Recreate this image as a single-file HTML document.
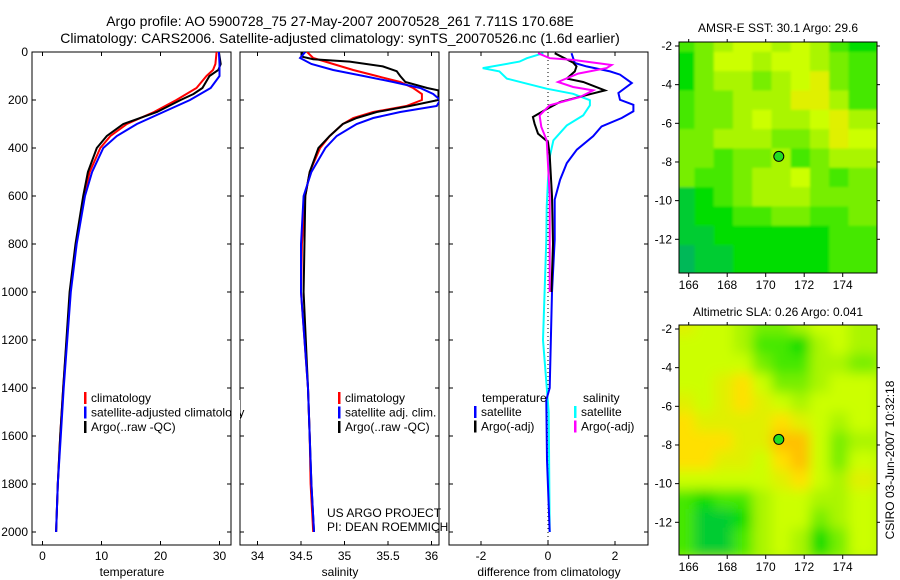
<!DOCTYPE html>
<html><head><meta charset="utf-8">
<style>
html,body{margin:0;padding:0;background:#fff;}
svg{display:block;font-family:"Liberation Sans",Arial,sans-serif;}
</style></head>
<body>
<svg id="fig" width="900" height="580" viewBox="0 0 900 580">
<defs>
<clipPath id="c1"><rect x="32" y="52" width="199" height="493"/></clipPath>
<clipPath id="c2"><rect x="240" y="52" width="199" height="493"/></clipPath>
<clipPath id="c3"><rect x="449" y="52" width="199" height="493"/></clipPath>
<clipPath id="cm1"><rect x="679" y="42" width="198" height="231"/></clipPath>
<clipPath id="cm2"><rect x="679" y="325" width="198" height="230"/></clipPath>
<filter id="blur2" x="-5%" y="-5%" width="110%" height="110%"><feGaussianBlur stdDeviation="6"/></filter>
<filter id="blur1"><feGaussianBlur stdDeviation="1.2"/></filter>
</defs>
<text x="340" y="26" font-size="14" text-anchor="middle">Argo profile: AO 5900728_75 27-May-2007 20070528_261 7.711S 170.68E</text>
<text x="340" y="43" font-size="14" text-anchor="middle">Climatology: CARS2006. Satellite-adjusted climatology: synTS_20070526.nc (1.6d earlier)</text>
<g id="layer"></g>
</svg>
<script>
// ---------- profile data ----------
const tDepth=[0,50,75,100,150,200,250,300,350,400,500,600,800,1000,1400,1600,1800,2000];
const tClim=[29.5,29.3,28.9,27.8,26.1,22.7,18.9,14.3,11.5,9.8,8.0,7.0,5.7,4.7,3.5,3.0,2.6,2.3];
const tSat=[29.9,30.0,30.0,30.0,28.5,25.0,20.5,16.0,12.6,10.3,8.4,7.2,5.8,4.8,3.6,3.1,2.6,2.3];
const aDepth=[0,50,75,100,150,175,200,250,300,350,400,500,600,800,1000,1400,1600,1800,2000];
const tArgo=[29.9,30.2,29.8,28.3,27.1,25.6,23.4,19.4,13.7,10.9,9.2,7.7,6.9,5.6,4.6,3.5,3.0,2.6,2.3];
const sDepth=[0,25,50,75,100,125,150,175,200,225,250,275,300,350,400,500,600,800,1000,1400,1600,1800,2000];
const sClim=[34.57,34.64,34.87,35.10,35.37,35.64,35.79,35.89,35.89,35.71,35.33,35.10,34.98,34.83,34.72,34.60,34.55,34.51,34.50,34.58,34.60,34.61,34.64];
const sSat=[34.55,34.49,34.62,34.87,35.22,35.56,35.87,36.02,36.10,36.06,35.64,35.33,35.14,34.91,34.78,34.62,34.53,34.50,34.50,34.58,34.60,34.62,34.65];
const saDepth=[0,20,30,40,60,80,100,125,150,160,200,225,250,275,300,350,400,500,600,1000,1400,1600,1800,2000];
const sArgo=[34.51,34.52,34.64,35.06,35.44,35.60,35.64,35.70,35.95,36.08,36.08,35.75,35.37,35.14,34.98,34.83,34.70,34.60,34.55,34.53,34.58,34.60,34.62,34.65];
// difference panel
const dtsDepth=[5,46,60,81,94,129,171,199,220,247,275,310,351,407,463,532,615,782,1000,1400,1450,1700,2000];
const dTSat=[0.7,0.8,1.15,1.85,2.15,2.5,2.1,2.15,2.55,2.55,2.2,1.6,1.35,0.86,0.56,0.36,0.2,0.2,0.12,0.05,-0.05,-0.03,0.05];
const dtaDepth=[5,44,60,81,111,125,160,174,208,243,271,299,340,375,430,600,800,1000];
const dTArgo=[0.2,0.75,0.85,0.8,0.56,1.05,1.7,1.3,0.36,-0.1,-0.45,-0.4,-0.3,0.0,0.05,0.12,0.15,0.1];
const dsaDepth=[5,26,33,54,67,90,125,146,160,188,222,264,312,368,600,1000];
const dSArgo=[-0.3,0.05,0.75,1.9,1.75,0.9,0.3,0.75,1.35,0.95,0.05,-0.25,-0.2,-0.04,0.05,0.05];
const dssDepth=[5,26,40,67,81,111,132,153,174,201,222,264,306,368,437,532,646,785,1000,1200,1500,2000];
const dSSat=[-0.14,-0.63,-0.85,-1.95,-1.45,-1.23,-0.63,-0.04,0.75,1.25,1.25,1.05,0.56,0.16,0.05,0.0,-0.04,-0.05,-0.1,-0.15,0.02,0.05];
// map data (rows lat -2..-13, cols lon 166..175)
const sstGrid=[
[5,6,7,8,8,7,8,7,5,4],[4,6,8,8,7,8,8,7,6,5],[4,6,7,7,6,7,8,9,6,5],[5,6,6,7,7,7,9,9,7,5],
[5,6,6,7,8,7,7,8,9,7],[6,6,7,7,7,6,6,7,9,8],[6,6,5,6,6,7,5,6,7,7],[6,5,5,6,7,7,8,6,5,6],
[3,4,5,6,7,7,7,6,6,6],[3,4,4,5,5,6,6,5,5,6],[3,3,4,4,4,4,4,4,5,5],[2,3,3,4,4,4,4,4,5,5]];
const slaGrid=[
[9,8,8,7,6,6,7,8,8,7],[8,8,8,7,5,5,4,7,8,7],[8,8,8,8,6,5,5,7,7,6],[8,8,9,10,8,6,6,7,8,8],
[9,8,9,10,9,8,7,8,8,8],[10,9,9,9,9,10,9,8,7,8],[10,10,10,9,9,11,11,8,6,7],[10,10,9,9,8,10,11,8,6,8],
[8,8,8,8,8,9,10,8,7,9],[5,4,5,5,7,8,8,7,7,8],[5,3,3,4,7,8,8,6,7,8],[5,3,3,5,7,8,7,4,6,8]];
const depthTicks=[0,200,400,600,800,1000,1200,1400,1600,1800,2000];
const tTicks=[0,10,20,30];
const sTicks=[34,34.5,35,35.5,36];
const dTicks=[-2,0,2];
const lonTicks=[166,168,170,172,174];
const latTicks=[-2,-4,-6,-8,-10,-12];
const argoLon=170.68, argoLat=-7.711;

const NS='http://www.w3.org/2000/svg';
const L=document.getElementById('layer');
function mk(tag,at,parent){const e=document.createElementNS(NS,tag);for(const k in at)e.setAttribute(k,at[k]);(parent||L).appendChild(e);return e;}
const yD=d=>52+d*0.24;
const xT=v=>42.5+v*5.9;
const xS=v=>257.5+(v-34)*87;
const xDf=v=>548+v*33.5;

function line(depths,vals,xf,color,clip,name){
  const pts=depths.map((d,i)=>xf(vals[i]).toFixed(1)+','+yD(d).toFixed(1)).join(' ');
  const p=mk('polyline',{points:pts,fill:'none',stroke:color,'stroke-width':2,'clip-path':'url(#'+clip+')'});
  
  
}
function panel(x0,name,ticks,xf,fmt,title,showY){
  const g=mk('g',{});
  
  
  mk('rect',{x:x0,y:52,width:199,height:493,fill:'none',stroke:'#000','stroke-width':1},g);
  depthTicks.forEach(d=>{
    mk('line',{x1:x0,x2:x0+4,y1:yD(d),y2:yD(d),stroke:'#000'},g);
    mk('line',{x1:x0+199,x2:x0+195,y1:yD(d),y2:yD(d),stroke:'#000'},g);
    if(showY){const t=mk('text',{x:28,y:yD(d)+4,'font-size':12,'text-anchor':'end'},g);t.textContent=d;
      }
  });
  ticks.forEach(v=>{
    const x=xf(v);
    mk('line',{x1:x,x2:x,y1:545,y2:541,stroke:'#000'},g);
    mk('line',{x1:x,x2:x,y1:52,y2:56,stroke:'#000'},g);
    const t=mk('text',{x:x,y:560,'font-size':12,'text-anchor':'middle'},g);t.textContent=fmt(v);
    
  });
  const tt=mk('text',{x:x0+100,y:576,'font-size':12,'text-anchor':'middle'},g);tt.textContent=title;
  
}
panel(32,'temperature-panel',tTicks,xT,v=>v,'temperature',true);
panel(240,'salinity-panel',sTicks,xS,v=>v,'salinity',false);
panel(449,'difference-panel',dTicks,xDf,v=>v===0?'0':(v<0?'-'+(-v):v),'difference from climatology',false);
const z=mk('line',{x1:548,x2:548,y1:52,y2:545,stroke:'#000','stroke-dasharray':'1,3'});


line(tDepth,tClim,xT,'#f00','c1','temp-climatology');
line(aDepth,tArgo,xT,'#000','c1','temp-argo');
line(tDepth,tSat,xT,'#00f','c1','temp-satellite-adjusted');
line(sDepth,sClim,xS,'#f00','c2','sal-climatology');
line(saDepth,sArgo,xS,'#000','c2','sal-argo');
line(sDepth,sSat,xS,'#00f','c2','sal-satellite-adjusted');
line(dssDepth,dSSat,xDf,'#0ff','c3','diff-sal-satellite');
line(dtsDepth,dTSat,xDf,'#00f','c3','diff-temp-satellite');
line(dtaDepth,dTArgo,xDf,'#000','c3','diff-temp-argo');
line(dsaDepth,dSArgo,xDf,'#f0f','c3','diff-sal-argo');

function legend(x,y,items,name){
  items.forEach((it,i)=>{
    const yy=y+i*14.5;
    const m=mk('rect',{x:x,y:yy-10,width:2.5,height:12,fill:it[1]});
    
    const t=mk('text',{x:x+7,y:yy,'font-size':12});t.textContent=it[0];
    
  });
}
legend(84,402,[['climatology','#f00'],['satellite-adjusted climatology','#00f'],['Argo(..raw -QC)','#000']],'temp-legend');
legend(338,402,[['climatology','#f00'],['satellite adj. clim.','#00f'],['Argo(..raw -QC)','#000']],'sal-legend');
legend(474,416,[['satellite','#00f'],['Argo(-adj)','#000']],'diff-temp-legend');
legend(574,416,[['satellite','#0ff'],['Argo(-adj)','#f0f']],'diff-sal-legend');
[['temperature',482,402],['salinity',583,402]].forEach(a=>{const t=mk('text',{x:a[1],y:a[2],'font-size':12});t.textContent=a[0];
  });
mk('rect',{x:232,y:400,width:8,height:20,fill:'#fff'});
[['US ARGO PROJECT',517],['PI: DEAN ROEMMICH',531]].forEach(a=>{const t=mk('text',{x:327,y:a[1],'font-size':12});t.textContent=a[0];
  });

// ---------- maps ----------
const cmap=['#00a070','#00b858','#00b858','#00cc30','#00dd00','#44e800','#77ee00','#aaf500','#ccff00','#e0f000','#ffe000','#ffc000','#ffa000'];
function map(top,bot,lat2y,grid,blur,clip,name,title,titleY){
  const xL=lon=>688.7+(lon-166)*19.25;
  const yL=lat=>lat2y+(-2-lat)*19.33;
  const g=mk('g',{'clip-path':'url(#'+clip+')'});
  
  const inner=mk('g',blur?{filter:'url(#'+blur+')'}:{},g);
  mk('rect',{x:670,y:top-10,width:220,height:bot-top+20,fill:cmap[7]},inner);
  grid.forEach((row,r)=>row.forEach((v,c)=>{
    const lon=165.3+c, lat=-1.3-r;
    const cell=mk('rect',{x:xL(lon)-(c===0?10:0),y:yL(lat)-(r===0?10:0),width:19.6+(c===0||c===9?10:0),height:19.6+(r===0||r===11?10:0),fill:cmap[v]},inner);
    
    
  }));
  const fr=mk('rect',{x:679,y:top,width:198,height:bot-top,fill:'none',stroke:'#000'});
  
  lonTicks.forEach(l=>{const x=xL(l);mk('line',{x1:x,x2:x,y1:bot,y2:bot+4,stroke:'#000'});mk('line',{x1:x,x2:x,y1:top,y2:top-3,stroke:'#000'});
    const t=mk('text',{x:x,y:bot+16,'font-size':12,'text-anchor':'middle'});t.textContent=l;
    });
  latTicks.forEach(l=>{const y=yL(l);mk('line',{x1:679,x2:675,y1:y,y2:y,stroke:'#000'});mk('line',{x1:877,x2:880,y1:y,y2:y,stroke:'#000'});
    const t=mk('text',{x:672,y:y+4,'font-size':12,'text-anchor':'end'});t.textContent=l;
    });
  const d=mk('circle',{cx:xL(argoLon),cy:yL(argoLat),r:5,fill:'#22dd22',stroke:'#000','stroke-width':1});
  
  const t=mk('text',{x:778,y:titleY,'font-size':12,'text-anchor':'middle'});t.textContent=title;
  
}
map(42,273,46,sstGrid,'blur1','cm1','sst-map','AMSR-E SST: 30.1 Argo: 29.6',32);
map(325,555,329,slaGrid,'blur2','cm2','sla-map','Altimetric SLA: 0.26 Argo: 0.041',316);
const cr=mk('text',{x:0,y:0,'font-size':12,'text-anchor':'middle',transform:'translate(894,460) rotate(-90)'});
cr.textContent='CSIRO 03-Jun-2007 10:32:18';

</script>
</body></html>
